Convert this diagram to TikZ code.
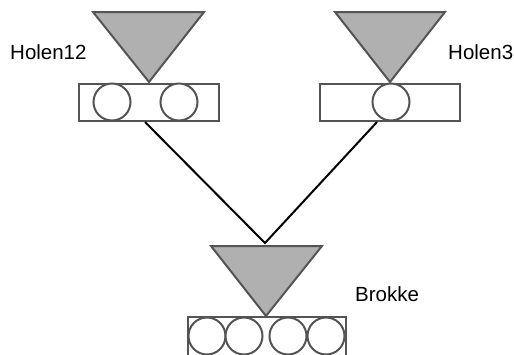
\documentclass[tikz,border=0pt]{standalone}
\usepackage{fontspec}
\setmainfont{Liberation Sans}
\begin{document}
\begin{tikzpicture}[x=1pt,y=-1pt,
  shp/.style={draw=black!67, line width=2pt, line join=miter},
  tri/.style={shp, fill=black!31},
  hole/.style={shp, fill=white},
  conn/.style={draw=black, line width=2pt},
  lbl/.style={font=\fontsize{20.5}{24}\selectfont, inner sep=0pt, anchor=west}]
\useasboundingbox (0,0) rectangle (514,354);
\clip (0,0) rectangle (514,354);
% left unit
\draw[tri] (93,12) -- (204,12) -- (149,82) -- cycle;
\draw[shp] (79,84) rectangle (219,121);
\draw[hole] (112,102) circle (18.5);
\draw[hole] (179,102) circle (18.5);
\node[lbl] (h12) at (10,52) {Holen12};
% right unit
\draw[tri] (335,12) -- (445,12) -- (390,82) -- cycle;
\draw[shp] (320,84) rectangle (460,121);
\draw[hole] (391,102) circle (18.5);
\node[lbl] (h3) at (448,52) {Holen3};
% bottom unit
\draw[tri] (211,246) -- (322,246) -- (266,316) -- cycle;
\draw[shp] (188,317) rectangle (346,358);
\draw[hole] (207,336) circle (18.5);
\draw[hole] (244,336) circle (18.5);
\draw[hole] (288,336) circle (18.5);
\draw[hole] (326,336) circle (18.5);
\node[lbl] (br) at (355,294) {Brokke};
% connectors
\coordinate (lout) at (145,122);
\coordinate (rout) at (377,122);
\coordinate (join) at (265,243);
\draw[conn] (lout) -- (join) -- (rout);
\end{tikzpicture}
\end{document}
